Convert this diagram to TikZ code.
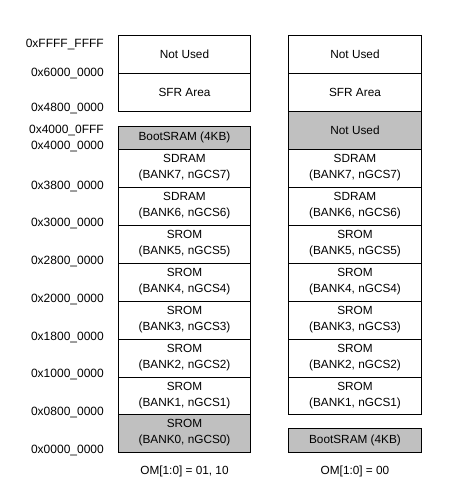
\documentclass[tikz,border=0pt]{standalone}
\usepackage{fontspec}
\setmainfont{Liberation Sans}
\definecolor{boxgray}{HTML}{C0C0C0}
\begin{document}
\begin{tikzpicture}[x=1pt,y=-1pt,
  region/.style={draw=black,line width=0.9pt},
  lbl/.style={inner sep=0pt,align=center,font=\fontsize{11.8}{16}\selectfont},
  addr/.style={anchor=east,inner sep=0pt,font=\fontsize{12}{14}\selectfont},
  captext/.style={inner sep=0pt,font=\fontsize{11.8}{14}\selectfont}]
\useasboundingbox (0,0) rectangle (468,495);
% left column
\def\lx{118.5}\def\rx{250.5}
\path[region] (\lx,35) rectangle (\rx,73) node[lbl,midway] (L1) {Not Used};
\path[region] (\lx,73) rectangle (\rx,111) node[lbl,midway] (L2) {SFR Area};
\path[region,fill=boxgray] (\lx,126) rectangle (\rx,149) node[lbl,midway] (L3) {BootSRAM (4KB)};
\path[region] (\lx,149) rectangle (\rx,187) node[lbl,midway] (L4) {SDRAM\\(BANK7, nGCS7)};
\path[region] (\lx,187) rectangle (\rx,225) node[lbl,midway] (L5) {SDRAM\\(BANK6, nGCS6)};
\path[region] (\lx,225) rectangle (\rx,263) node[lbl,midway] (L6) {SROM\\(BANK5, nGCS5)};
\path[region] (\lx,263) rectangle (\rx,301) node[lbl,midway] (L7) {SROM\\(BANK4, nGCS4)};
\path[region] (\lx,301) rectangle (\rx,339) node[lbl,midway] (L8) {SROM\\(BANK3, nGCS3)};
\path[region] (\lx,339) rectangle (\rx,377) node[lbl,midway] (L9) {SROM\\(BANK2, nGCS2)};
\path[region] (\lx,377) rectangle (\rx,414) node[lbl,midway] (L10) {SROM\\(BANK1, nGCS1)};
\path[region,fill=boxgray] (\lx,414) rectangle (\rx,452) node[lbl,midway] (L11) {SROM\\(BANK0, nGCS0)};
% right column
\def\la{288.5}\def\ra{421.5}
\path[region] (\la,35) rectangle (\ra,73) node[lbl,midway] (R1) {Not Used};
\path[region] (\la,73) rectangle (\ra,111) node[lbl,midway] (R2) {SFR Area};
\path[region,fill=boxgray] (\la,111) rectangle (\ra,149) node[lbl,midway] (R3) {Not Used};
\path[region] (\la,149) rectangle (\ra,187) node[lbl,midway] (R4) {SDRAM\\(BANK7, nGCS7)};
\path[region] (\la,187) rectangle (\ra,225) node[lbl,midway] (R5) {SDRAM\\(BANK6, nGCS6)};
\path[region] (\la,225) rectangle (\ra,263) node[lbl,midway] (R6) {SROM\\(BANK5, nGCS5)};
\path[region] (\la,263) rectangle (\ra,301) node[lbl,midway] (R7) {SROM\\(BANK4, nGCS4)};
\path[region] (\la,301) rectangle (\ra,339) node[lbl,midway] (R8) {SROM\\(BANK3, nGCS3)};
\path[region] (\la,339) rectangle (\ra,377) node[lbl,midway] (R9) {SROM\\(BANK2, nGCS2)};
\path[region] (\la,377) rectangle (\ra,414) node[lbl,midway] (R10) {SROM\\(BANK1, nGCS1)};
\path[region,fill=boxgray] (\la,428) rectangle (\ra,452) node[lbl,midway] (R11) {BootSRAM (4KB)};
% addresses
\node[addr] (a1) at (104,44.5) {0xFFFF\_FFFF};
\node[addr] (a2) at (104,73.5) {0x6000\_0000};
\node[addr] (a3) at (104,108.5) {0x4800\_0000};
\node[addr] (a4) at (104,130.5) {0x4000\_0FFF};
\node[addr] (a5) at (104,146.5) {0x4000\_0000};
\node[addr] (a6) at (104,186.5) {0x3800\_0000};
\node[addr] (a7) at (104,223.5) {0x3000\_0000};
\node[addr] (a8) at (104,261.5) {0x2800\_0000};
\node[addr] (a9) at (104,299.5) {0x2000\_0000};
\node[addr] (a10) at (104,337.5) {0x1800\_0000};
\node[addr] (a11) at (104,374.5) {0x1000\_0000};
\node[addr] (a12) at (104,412.5) {0x0800\_0000};
\node[addr] (a13) at (104,450.5) {0x0000\_0000};
% captions
\node[captext] (c1) at (184.5,471) {OM[1:0] = 01, 10};
\node[captext] (c2) at (355,471) {OM[1:0] = 00};
\end{tikzpicture}
\end{document}
